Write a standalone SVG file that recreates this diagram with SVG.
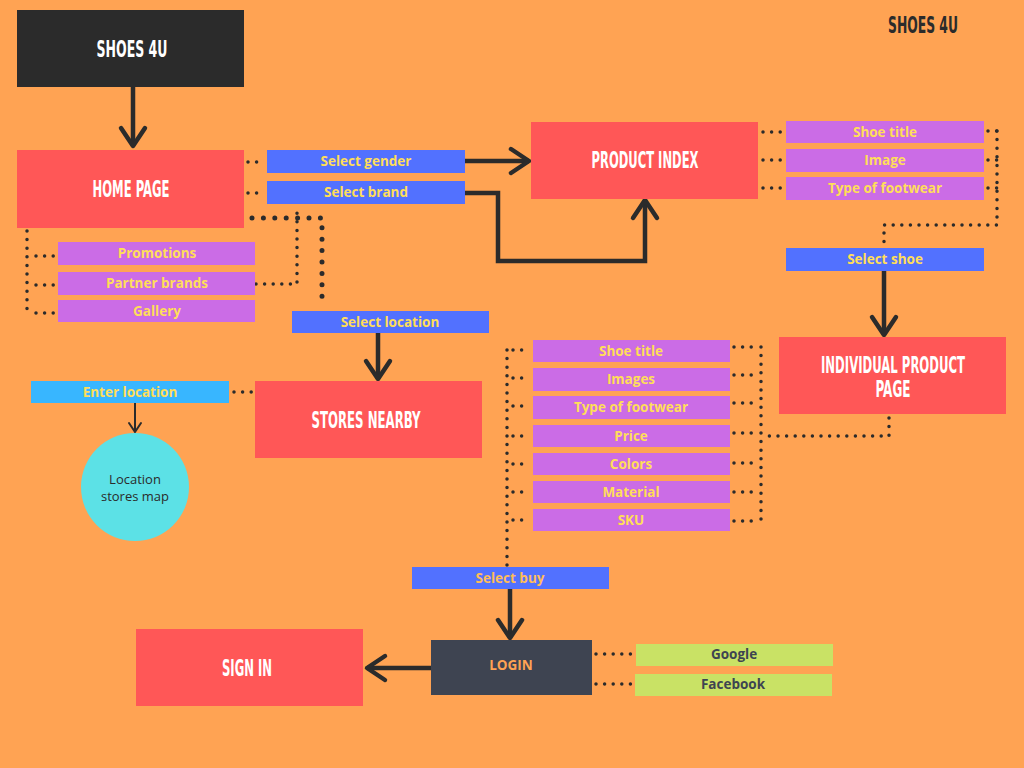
<svg xmlns="http://www.w3.org/2000/svg" width="1024" height="768" viewBox="0 0 1024 768">
<style>
.bg{fill:#FFA353}
.dark{fill:#2B2B2B}
.red{fill:#FF5757}
.blue{fill:#5271FF}
.purple{fill:#CB6CE6}
.cyan{fill:#38B6FF}
.green{fill:#C9E265}
.slate{fill:#3E4451}
.head{font-family:"Liberation Sans Narrow","DejaVu Sans Condensed","Liberation Sans",sans-serif;font-weight:700;fill:#FFFFFF;text-anchor:middle;font-size:23px}
.lbl{font-family:"Open Sans","Liberation Sans",sans-serif;font-weight:700;fill:#FFDE59;text-anchor:middle;font-size:13.5px}
.lbl2{font-family:"Open Sans","Liberation Sans",sans-serif;font-weight:700;fill:#3E4451;text-anchor:middle;font-size:13.5px}
.circ{font-family:"Open Sans","Liberation Sans",sans-serif;fill:#2B2B2B;text-anchor:middle;font-size:13px}
.line{fill:none;stroke:#2B2B2B;stroke-width:4.5;stroke-linejoin:miter}
.thin{fill:none;stroke:#2B2B2B;stroke-width:2}
.dot{fill:none;stroke:#2B2B2B;stroke-width:3.5;stroke-linecap:round;stroke-dasharray:0 8.6}
.bigdot{fill:none;stroke:#2B2B2B;stroke-width:5;stroke-linecap:round;stroke-dasharray:0 11.4}
</style>
<defs>
<marker id="chev" markerUnits="userSpaceOnUse" viewBox="-4 -16 28 32" refX="18" refY="0" markerWidth="28" markerHeight="32" orient="auto">
<path d="M0,-12 L18,0 L0,12" fill="none" stroke="#2B2B2B" stroke-width="4.5" stroke-linecap="round" stroke-linejoin="round"/>
</marker>
<marker id="chevs" markerUnits="userSpaceOnUse" viewBox="-3 -9 14 18" refX="9" refY="0" markerWidth="14" markerHeight="18" orient="auto">
<path d="M0,-6 L9,0 L0,6" fill="none" stroke="#2B2B2B" stroke-width="2" stroke-linecap="round"/>
</marker>
</defs>
<rect class="bg" x="0" y="0" width="1024" height="768"/>

<g id="connectors">
<path class="line" d="M133,87 V146" marker-end="url(#chev)"/>
<path class="line" d="M465,161 H529" marker-end="url(#chev)"/>
<path class="line" d="M465,193 H498 V261 H645 V200" marker-end="url(#chev)"/>
<path class="line" d="M884,271 V335" marker-end="url(#chev)"/>
<path class="line" d="M378,333 V379" marker-end="url(#chev)"/>
<path class="line" d="M510,589 V638" marker-end="url(#chev)"/>
<path class="line" d="M431,668 H367" marker-end="url(#chev)"/>
<path class="thin" d="M135,403 V432" marker-end="url(#chevs)"/>

<path class="dot" d="M248,162 H265"/>
<path class="dot" d="M248,193 H265"/>
<path class="dot" d="M27,231 V313"/>
<path class="dot" d="M36,256 H54"/>
<path class="dot" d="M36,285 H54"/>
<path class="dot" d="M36,313 H54"/>
<path class="dot" d="M256,284 H297 V209"/>
<path class="bigdot" d="M252,218 H322 V307"/>
<path class="dot" d="M763,132 H783"/>
<path class="dot" d="M763,160 H783"/>
<path class="dot" d="M763,188 H783"/>
<path class="dot" d="M997,131 V225 H884 V246"/>
<path class="dot" d="M988,131 H997"/>
<path class="dot" d="M988,160 H997"/>
<path class="dot" d="M988,188 H997"/>
<path class="dot" d="M889,418 V436 H762"/>
<path class="dot" d="M507,350 V566"/>
<path class="dot" d="M513,350 H530"/>
<path class="dot" d="M513,378 H530"/>
<path class="dot" d="M513,406 H530"/>
<path class="dot" d="M513,436 H530"/>
<path class="dot" d="M513,464 H530"/>
<path class="dot" d="M513,492 H530"/>
<path class="dot" d="M513,520 H530"/>
<path class="dot" d="M761,347 V521"/>
<path class="dot" d="M734,347 H752"/>
<path class="dot" d="M734,375 H752"/>
<path class="dot" d="M734,403 H752"/>
<path class="dot" d="M734,433 H752"/>
<path class="dot" d="M734,463 H752"/>
<path class="dot" d="M734,492 H752"/>
<path class="dot" d="M734,521 H752"/>
<path class="dot" d="M234,392 H253"/>
<path class="dot" d="M596,654 H634"/>
<path class="dot" d="M596,684 H634"/>
</g>

<g id="title">
<text class="head" x="923" y="33" style="fill:#2B2B2B" textLength="70" lengthAdjust="spacingAndGlyphs">SHOES 4U</text>
</g>

<g id="shoes4u">
<rect class="dark" x="17" y="10" width="227" height="77"/>
<text class="head" x="132" y="57" font-size="25" textLength="71" lengthAdjust="spacingAndGlyphs">SHOES 4U</text>
</g>

<g id="home-page">
<rect class="red" x="17" y="150" width="227" height="78"/>
<text class="head" x="131" y="197" textLength="77" lengthAdjust="spacingAndGlyphs">HOME PAGE</text>
</g>

<g id="select-gender">
<rect class="blue" x="267" y="150" width="198" height="23"/>
<text class="lbl" x="366" y="166">Select gender</text>
</g>
<g id="select-brand">
<rect class="blue" x="267" y="181" width="198" height="23"/>
<text class="lbl" x="366" y="197">Select brand</text>
</g>

<g id="promotions">
<rect class="purple" x="58" y="242" width="197" height="23"/>
<text class="lbl" x="157" y="258">Promotions</text>
</g>
<g id="partner-brands">
<rect class="purple" x="58" y="272" width="197" height="23"/>
<text class="lbl" x="157" y="288">Partner brands</text>
</g>
<g id="gallery">
<rect class="purple" x="58" y="300" width="197" height="22"/>
<text class="lbl" x="157" y="316">Gallery</text>
</g>

<g id="product-index">
<rect class="red" x="531" y="122" width="227" height="77"/>
<text class="head" x="645" y="168" textLength="107" lengthAdjust="spacingAndGlyphs">PRODUCT INDEX</text>
</g>

<g id="pi-shoe-title">
<rect class="purple" x="786" y="121" width="198" height="22"/>
<text class="lbl" x="885" y="137">Shoe title</text>
</g>
<g id="pi-image">
<rect class="purple" x="786" y="149" width="198" height="23"/>
<text class="lbl" x="885" y="165">Image</text>
</g>
<g id="pi-type">
<rect class="purple" x="786" y="177" width="198" height="23"/>
<text class="lbl" x="885" y="193">Type of footwear</text>
</g>

<g id="select-shoe">
<rect class="blue" x="786" y="248" width="198" height="23"/>
<text class="lbl" x="885" y="264">Select shoe</text>
</g>

<g id="individual-product-page">
<rect class="red" x="779" y="337" width="227" height="77"/>
<text class="head" x="893" y="373" font-size="20" textLength="144" lengthAdjust="spacingAndGlyphs">INDIVIDUAL PRODUCT</text>
<text class="head" x="893" y="397" font-size="20" textLength="35" lengthAdjust="spacingAndGlyphs">PAGE</text>
</g>

<g id="ip-shoe-title">
<rect class="purple" x="533" y="340" width="197" height="22"/>
<text class="lbl" x="631" y="356">Shoe title</text>
</g>
<g id="ip-images">
<rect class="purple" x="533" y="368" width="197" height="23"/>
<text class="lbl" x="631" y="384">Images</text>
</g>
<g id="ip-type">
<rect class="purple" x="533" y="396" width="197" height="23"/>
<text class="lbl" x="631" y="412">Type of footwear</text>
</g>
<g id="ip-price">
<rect class="purple" x="533" y="425" width="197" height="22"/>
<text class="lbl" x="631" y="441">Price</text>
</g>
<g id="ip-colors">
<rect class="purple" x="533" y="453" width="197" height="22"/>
<text class="lbl" x="631" y="469">Colors</text>
</g>
<g id="ip-material">
<rect class="purple" x="533" y="481" width="197" height="22"/>
<text class="lbl" x="631" y="497">Material</text>
</g>
<g id="ip-sku">
<rect class="purple" x="533" y="509" width="197" height="22"/>
<text class="lbl" x="631" y="525">SKU</text>
</g>

<g id="select-location">
<rect class="blue" x="292" y="311" width="197" height="22"/>
<text class="lbl" x="390" y="327">Select location</text>
</g>

<g id="stores-nearby">
<rect class="red" x="255" y="381" width="227" height="77"/>
<text class="head" x="366" y="428" textLength="109" lengthAdjust="spacingAndGlyphs">STORES NEARBY</text>
</g>

<g id="enter-location">
<rect class="cyan" x="31" y="381" width="198" height="22"/>
<text class="lbl" x="130" y="397">Enter location</text>
</g>

<g id="location-stores-map">
<circle cx="135" cy="487" r="54" fill="#5CE1E6"/>
<text class="circ" x="135" y="484">Location</text>
<text class="circ" x="135" y="501">stores map</text>
</g>

<g id="select-buy">
<rect class="blue" x="412" y="567" width="197" height="22"/>
<text class="lbl" x="510" y="583" style="fill:#FFBD59">Select buy</text>
</g>

<g id="login">
<rect class="slate" x="431" y="640" width="161" height="55"/>
<text class="lbl" x="511" y="670" font-size="11" style="fill:#FFA353">LOGIN</text>
</g>

<g id="sign-in">
<rect class="red" x="136" y="629" width="227" height="77"/>
<text class="head" x="247" y="676" textLength="50" lengthAdjust="spacingAndGlyphs">SIGN IN</text>
</g>

<g id="google">
<rect class="green" x="636" y="644" width="197" height="22"/>
<text class="lbl2" x="734" y="659">Google</text>
</g>
<g id="facebook">
<rect class="green" x="635" y="674" width="197" height="22"/>
<text class="lbl2" x="733" y="689">Facebook</text>
</g>
</svg>
